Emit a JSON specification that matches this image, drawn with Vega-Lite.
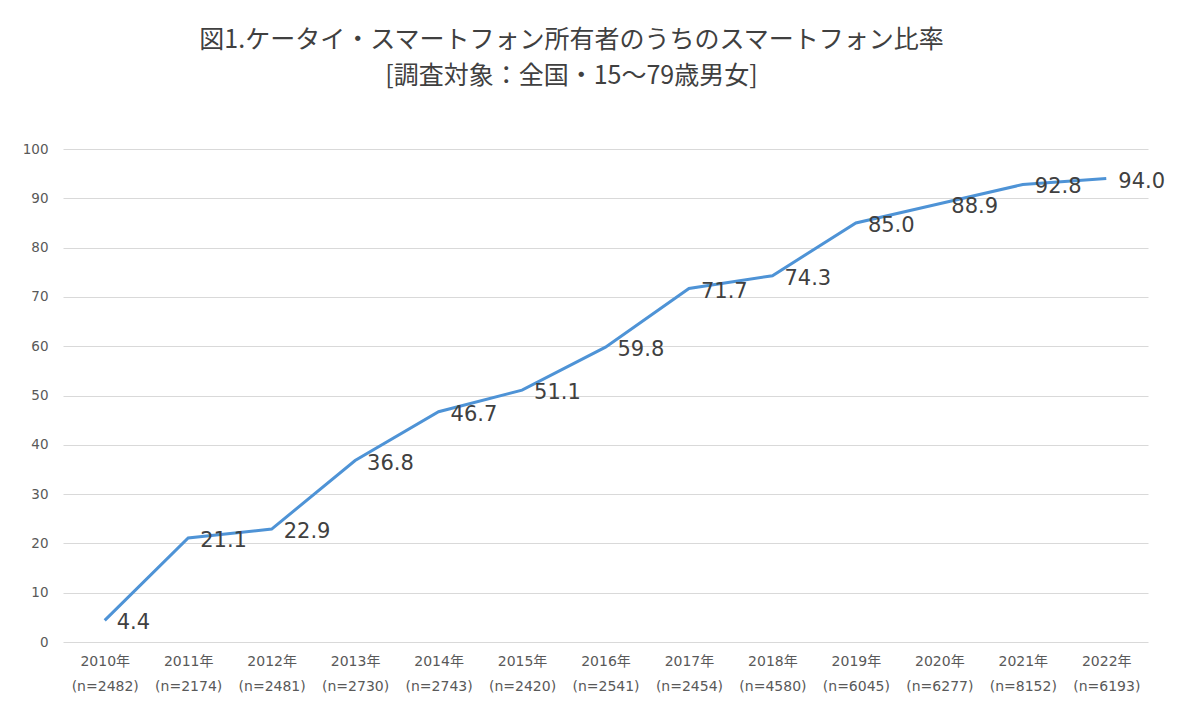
{
  "$schema": "https://vega.github.io/schema/vega-lite/v6.json",
  "autosize": {"type": "none"},
  "width": 1085,
  "height": 493,
  "padding": {"left": 63, "top": 149, "right": 52, "bottom": 85},
  "background": "white",
  "title": {
    "text": ["図1.ケータイ・スマートフォン所有者のうちのスマートフォン比率", "[調査対象：全国・15～79歳男女]"],
    "anchor": "middle",
    "dx": -34,
    "offset": 53,
    "font": "Noto Sans CJK JP",
    "fontSize": 25,
    "fontWeight": "normal",
    "lineHeight": 36,
    "color": "#404040"
  },
  "data": {
    "values": [
      {"year": "2010年\n(n=2482)", "v": 4.4},
      {"year": "2011年\n(n=2174)", "v": 21.1},
      {"year": "2012年\n(n=2481)", "v": 22.9},
      {"year": "2013年\n(n=2730)", "v": 36.8},
      {"year": "2014年\n(n=2743)", "v": 46.7},
      {"year": "2015年\n(n=2420)", "v": 51.1},
      {"year": "2016年\n(n=2541)", "v": 59.8},
      {"year": "2017年\n(n=2454)", "v": 71.7},
      {"year": "2018年\n(n=4580)", "v": 74.3},
      {"year": "2019年\n(n=6045)", "v": 85.0},
      {"year": "2020年\n(n=6277)", "v": 88.9},
      {"year": "2021年\n(n=8152)", "v": 92.8},
      {"year": "2022年\n(n=6193)", "v": 94.0}
    ]
  },
  "encoding": {
    "x": {
      "field": "year", "type": "ordinal", "sort": null,
      "scale": {"type": "point", "padding": 0.5},
      "axis": {
        "title": null, "labelAngle": 0, "domain": false, "ticks": false,
        "labelExpr": "split(datum.label, '\\n')",
        "labelFont": "DejaVu Sans, Noto Sans CJK JP", "labelFontSize": 14, "labelLineHeight": 25,
        "labelColor": "#595959", "labelPadding": 12
      }
    },
    "y": {
      "field": "v", "type": "quantitative",
      "scale": {"domain": [0, 100]},
      "axis": {
        "title": null, "values": [0,10,20,30,40,50,60,70,80,90,100],
        "domain": false, "ticks": false, "gridColor": "#d9d9d9", "gridWidth": 1,
        "labelFont": "DejaVu Sans", "labelFontSize": 13.5, "labelColor": "#595959", "labelPadding": 15
      }
    }
  },
  "layer": [
    {"mark": {"type": "line", "color": "#4e93d6", "strokeWidth": 3}},
    {"mark": {"type": "text", "align": "left", "baseline": "middle", "dx": 12, "dy": 3, "fontSize": 21, "font": "DejaVu Sans", "color": "#404040"},
     "encoding": {"text": {"field": "v", "type": "quantitative", "format": ".1f"}}}
  ],
  "config": {"view": {"stroke": null}}
}
